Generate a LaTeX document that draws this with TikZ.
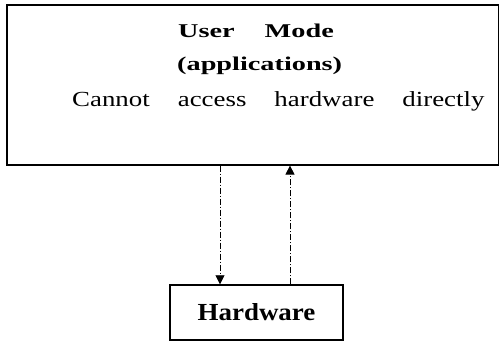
\documentclass[tikz,border=0pt]{standalone}
\usepackage{fontspec}
\setmainfont{Liberation Serif}[FakeStretch=1.1]
\newfontfamily\headfont{Liberation Serif}[FakeStretch=1.45]
\newfontfamily\bodyfont{Liberation Serif}[FakeStretch=1.25]
\usetikzlibrary{arrows.meta}
\newcommand\wordgap[1]{\spaceskip=#1\relax}

\begin{document}
\begin{tikzpicture}[x=1pt, y=-1pt, >={Triangle[length=9pt, width=9pt]}, box/.style={draw, line width=1.6pt, inner sep=0pt}, link/.style={->, line width=0.8pt, dash pattern=on 6pt off 2pt on 1pt off 2pt}, txt/.style={anchor=base west, inner sep=0pt}]
	\useasboundingbox (0,0) rectangle (499,345);
	\node[box, minimum width=492pt, minimum height=160pt, anchor=north west] (user) at (6,4) {};
	\node[txt, font=\headfont\fontsize{19.5}{23}\selectfont\bfseries] (mode) at (178,37.5) {\wordgap{30pt}User Mode};
	\node[txt, font=\headfont\fontsize{19.5}{23}\selectfont\bfseries] (apps) at (177,70.5) {(applications)};
	\node[txt, font=\bodyfont\fontsize{21.5}{25}\selectfont] (note) at (72,106.5) {\wordgap{28pt}Cannot access hardware directly};
	\node[box, line width=1.4pt, minimum width=173pt, minimum height=55pt, font=\fontsize{24.5}{28}\selectfont\bfseries] (hw) at (256.5,312.5) {Hardware};
	\coordinate (down) at ([xshift=-36.5pt]hw.north);
	\coordinate (up) at ([xshift=33.5pt]hw.north);
	\draw[link] (down |- user.south) -- (down);
	\draw[link] (up) -- (up |- user.south);
\end{tikzpicture}
\end{document}
